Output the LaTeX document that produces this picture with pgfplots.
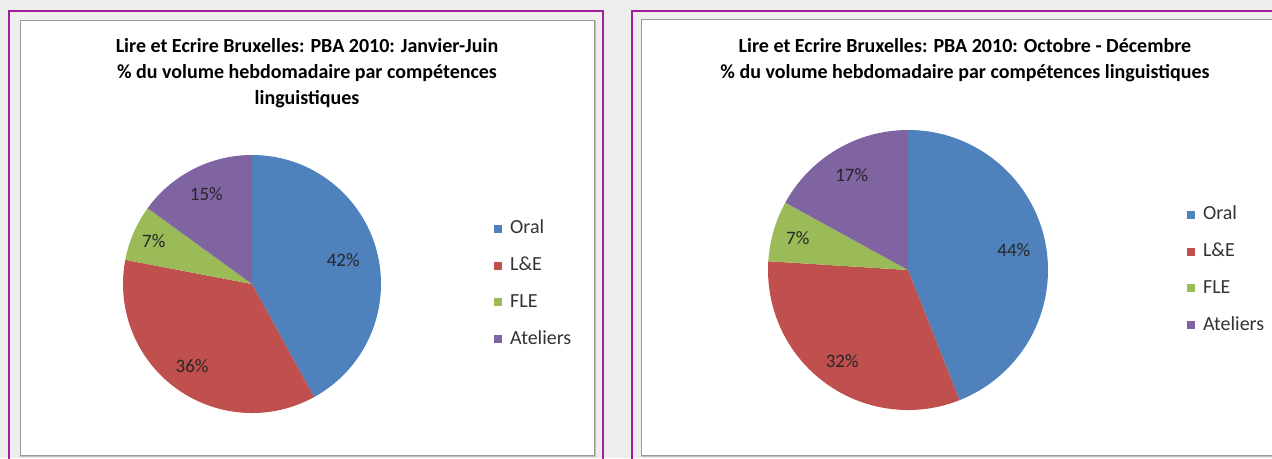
\documentclass[border=0pt]{standalone}
\usepackage{fontspec}
\setmainfont{Carlito}
\usepackage{pgfplots}
\usepackage{pgfplotstable}
\pgfplotsset{compat=1.18}

\definecolor{bgcol}{HTML}{EDEDED}
\definecolor{boxcol}{HTML}{A020A0}
\definecolor{slice0}{HTML}{4F81BD}
\definecolor{slice1}{HTML}{C0504D}
\definecolor{slice2}{HTML}{9BBB59}
\definecolor{slice3}{HTML}{8064A2}

% share of the weekly volume (%), clockwise from 12 o'clock:
% Oral, L&E, FLE, Ateliers; lab = label distance (fraction of radius)
\pgfplotstableread{
pct lab
42  0.73
36  0.79
7   0.83
15  0.78
}\janjun
\pgfplotstableread{
pct lab
44  0.77
32  0.80
7   0.82
17  0.79
}\octdec

% start / end / middle angle of every slice, kept as \<prefix>s<k> etc.
\newcommand\pieprep[2]{%
  \xdef\piecum{0}%
  \foreach \k in {0,1,2,3}{%
    \pgfplotstablegetelem{\k}{lab}\of#1%
    \expandafter\xdef\csname #2d\k\endcsname{\pgfplotsretval}%
    \pgfplotstablegetelem{\k}{pct}\of#1%
    \pgfmathsetmacro\st{90-3.6*\piecum}%
    \pgfmathsetmacro\en{90-3.6*(\piecum+\pgfplotsretval)}%
    \pgfmathsetmacro\md{(\st+\en)/2}%
    \expandafter\xdef\csname #2s\k\endcsname{\st}%
    \expandafter\xdef\csname #2e\k\endcsname{\en}%
    \expandafter\xdef\csname #2m\k\endcsname{\md}%
    \expandafter\xdef\csname #2v\k\endcsname{\pgfplotsretval}%
    \pgfmathsetmacro\nc{\piecum+\pgfplotsretval}%
    \xdef\piecum{\nc}%
  }%
}
\pieprep{\janjun}{L}
\pieprep{\octdec}{R}
\newcommand\pv[1]{\csname #1\endcsname}

\pgfplotsset{
  pie/.style={
    hide axis, clip=false, anchor=center,
    xmin=-1, xmax=1, ymin=-1, ymax=1,
    legend cell align=left,
    legend image code/.code={\fill[##1,draw=none] (0pt,-4pt) rectangle (8pt,4pt);},
    legend style={draw=none, fill=none, anchor=west, inner sep=0pt,
      column sep=8pt, row sep=18.7pt,
      font=\fontsize{20}{24}\selectfont, text=black!80,
      nodes={inner sep=0pt, text height=14pt, text depth=4pt}},
  },
}

\begin{document}
\begin{tikzpicture}[x=1pt,y=1pt]
\path[use as bounding box] (0,0) rectangle (1272,458);
\clip (0,0) rectangle (1272,458);
\fill[bgcol] (0,0) rectangle (1272,458);

% purple frames and white chart areas
\draw[boxcol, line width=1.6pt] (9,447) rectangle (603,-10);
\draw[boxcol, line width=1.6pt] (632,447) rectangle (1290,-10);
\draw[black!25, line width=2pt] (21,437) rectangle (595,2);
\draw[black!25, line width=2pt] (642,438) rectangle (1290,2);
\fill[white] (20,438) rectangle (594,3);
\fill[white] (641,439) rectangle (1290,3);
\draw[black!40, line width=0.8pt] (20,438) rectangle (594,3);
\draw[black!40, line width=0.8pt] (641,439) rectangle (1290,3);

% titles
\begin{scope}[every node/.style={anchor=base, font=\fontsize{20}{24}\selectfont\bfseries}]
\node at (307,405) {Lire et Ecrire Bruxelles: PBA 2010: Janvier-Juin};
\node at (307,379) {\% du volume hebdomadaire par compétences};
\node at (307,353) {linguistiques};
\node at (965,405) {Lire et Ecrire Bruxelles: PBA 2010: Octobre - Décembre};
\node at (965,379) {\% du volume hebdomadaire par compétences linguistiques};
\end{scope}

% Janvier-Juin
\begin{axis}[pie, x=129pt, y=129pt, at={(252pt,174pt)},
  legend style={at={(1.438,0.5)}}]
\pgfplotsinvokeforeach{0,...,3}{
  \fill[slice#1] (axis cs:0,0)
    -- (axis cs:{cos(\pv{Ls#1})},{sin(\pv{Ls#1})})
    arc[start angle=\pv{Ls#1}, end angle=\pv{Le#1}, radius=129pt] -- cycle;
}
\pgfplotsinvokeforeach{0,...,3}{
  \node[font=\fontsize{19}{22}\selectfont, text=black!85]
    at (axis cs:{\pv{Ld#1}*cos(\pv{Lm#1})},{\pv{Ld#1}*sin(\pv{Lm#1})}) {\pv{Lv#1}\%};
}
\addlegendimage{fill=slice0}\addlegendentry{Oral}
\addlegendimage{fill=slice1}\addlegendentry{L\&E}
\addlegendimage{fill=slice2}\addlegendentry{FLE}
\addlegendimage{fill=slice3}\addlegendentry{Ateliers}
\end{axis}

% Octobre - Decembre
\begin{axis}[pie, x=140pt, y=140pt, at={(908pt,188pt)},
  legend style={at={(1.496,0.5)}}]
\pgfplotsinvokeforeach{0,...,3}{
  \fill[slice#1] (axis cs:0,0)
    -- (axis cs:{cos(\pv{Rs#1})},{sin(\pv{Rs#1})})
    arc[start angle=\pv{Rs#1}, end angle=\pv{Re#1}, radius=140pt] -- cycle;
}
\pgfplotsinvokeforeach{0,...,3}{
  \node[font=\fontsize{19}{22}\selectfont, text=black!85]
    at (axis cs:{\pv{Rd#1}*cos(\pv{Rm#1})},{\pv{Rd#1}*sin(\pv{Rm#1})}) {\pv{Rv#1}\%};
}
\addlegendimage{fill=slice0}\addlegendentry{Oral}
\addlegendimage{fill=slice1}\addlegendentry{L\&E}
\addlegendimage{fill=slice2}\addlegendentry{FLE}
\addlegendimage{fill=slice3}\addlegendentry{Ateliers}
\end{axis}
\end{tikzpicture}
\end{document}
